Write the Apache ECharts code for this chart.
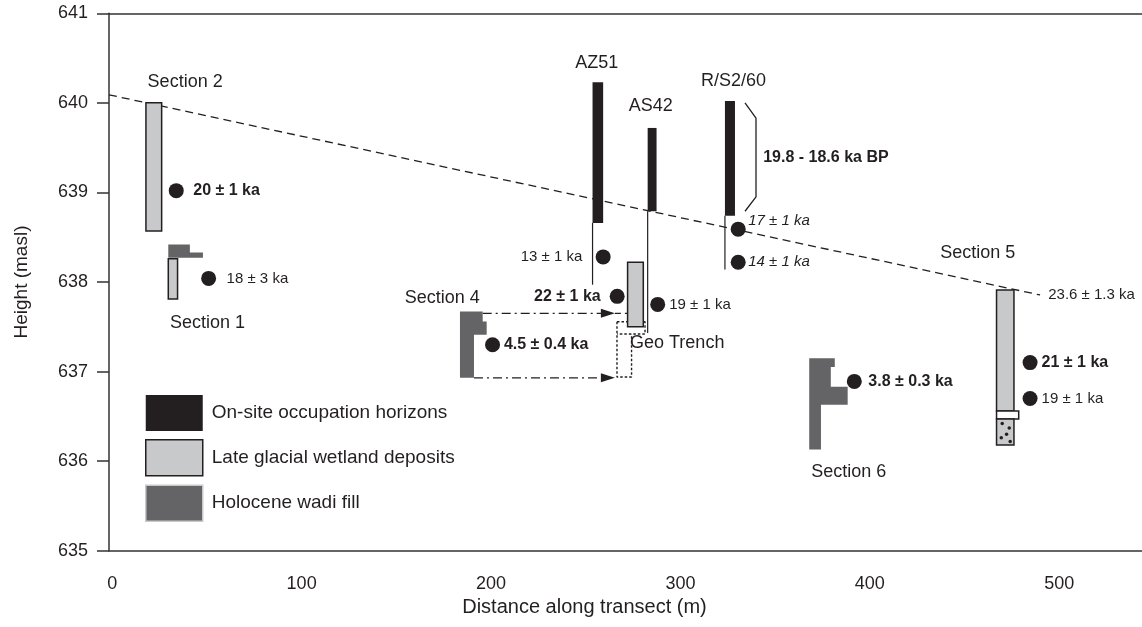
<!DOCTYPE html>
<html><head><meta charset="utf-8">
<script src="https://cdn.jsdelivr.net/npm/echarts@6/dist/echarts.min.js"></script>
<style>html,body{margin:0;padding:0;background:#fff}#c{width:1142px;height:627px}</style>
</head><body><div id="c"></div>
<script>
// ---- axes ----
const xTickValues = [0, 100, 200, 300, 400, 500];
const yTickValues = [635, 636, 637, 638, 639, 640, 641];

// ---- occupation horizons (black): [x0, x1, yTop, yBottom] ----
const occupationBars = [
  [253.6, 259.2, 640.23, 638.66],   // AZ51
  [282.7, 287.4, 639.72, 638.79],   // AS42
  [323.5, 328.8, 640.02, 638.74]    // R/S2/60
];
// ---- late glacial wetland deposits (light grey): [x0, x1, yTop, yBottom] ----
const wetlandBars = [
  [17.8, 26.1, 640.00, 638.57],     // Section 2
  [29.6, 34.5, 638.26, 637.81],     // Section 1
  [272.1, 280.4, 638.22, 637.50],   // Geo Trench
  [466.9, 476.1, 637.91, 636.56]    // Section 5
];
// Section 5 base units
const whiteBand = [[466.9, 478.6, 636.56, 636.47]];
const stippleBand = [[466.9, 476.1, 636.47, 636.18]];
const stippleDots = [[469.9, 636.42], [473.6, 636.37], [472.2, 636.30], [469.4, 636.26], [474.1, 636.22]];

// ---- Holocene wadi fill polygons (vertices) ----
const wadiSection1 = [[29.6, 638.42], [41.0, 638.42], [41.0, 638.33], [47.9, 638.33], [47.9, 638.27], [29.6, 638.27]];
const wadiSection4 = [[183.6, 637.67], [195.6, 637.67], [195.6, 637.56], [197.7, 637.56], [197.7, 637.41], [191.0, 637.41], [191.0, 636.93], [183.6, 636.93]];
const wadiSection6 = [[368.0, 637.15], [381.5, 637.15], [381.5, 637.05], [379.4, 637.05], [379.4, 636.83], [388.3, 636.83], [388.3, 636.63], [374.2, 636.63], [374.2, 636.13], [368.0, 636.13]];
const wadiPolygons = [wadiSection1, wadiSection4, wadiSection6];

// ---- dated samples (dots) ----
const samples = [
  [33.8, 639.02], [50.9, 638.04], [200.8, 637.30], [259.2, 638.28], [266.6, 637.84],
  [288.0, 637.75], [330.5, 638.59], [330.5, 638.22], [391.8, 636.89], [484.6, 637.10], [484.6, 636.70]
];

// ---- lines ----
const surfaceLine = [[-1.7, 640.09], [489.9, 637.855]];
const coreLines = [[253.6, 638.66, 637.97], [282.7, 638.79, 637.43], [323.5, 638.74, 638.14]]; // x, yTop, yBottom
const bracket = [[334.1, 640.00], [339.9, 639.83], [339.9, 638.95], [334.1, 638.79]];
const arrows = [[195.6, 265.4, 637.65], [191.0, 265.4, 636.93]]; // x0, x1, y
const arrowTail = [[265.4, 637.65], [272.1, 637.65]];
const trenchOutlineA = [[266.5, 637.557], [281.3, 637.557], [281.3, 637.42], [266.5, 637.42]];
const trenchOutlineB = [[266.5, 637.557], [266.5, 636.94], [274.2, 636.94], [274.2, 637.42]];

// ---- text labels: [x, y, text] ----
const boldLeftLabels = [
  [42.8, 639.02, '20 ± 1 ka'], [206.8, 637.30, '4.5 ± 0.4 ka'], [399.2, 636.89, '3.8 ± 0.3 ka'],
  [490.7, 637.10, '21 ± 1 ka'], [343.7, 639.39, '19.8 - 18.6 ka BP']
];
const boldRightLabels = [[257.9, 637.84, '22 ± 1 ka']];
const normalLeftLabels = [
  [60.4, 638.04, '18 ± 3 ka'], [294.1, 637.75, '19 ± 1 ka'], [490.7, 636.70, '19 ± 1 ka'], [494.2, 637.855, '23.6 ± 1.3 ka']
];
const normalRightLabels = [[248.2, 638.28, '13 ± 1 ka']];
const italicLeftLabels = [[335.8, 638.68, '17 ± 1 ka'], [335.8, 638.22, '14 ± 1 ka']];
const siteLabels = [
  [38.5, 640.23, 'Section 2'], [50.3, 637.54, 'Section 1'], [174.3, 637.82, 'Section 4'],
  [298.3, 637.32, 'Geo Trench'], [255.8, 640.44, 'AZ51'], [284.3, 639.97, 'AS42'],
  [328.0, 640.24, 'R/S2/60'], [457.0, 638.32, 'Section 5'], [388.9, 635.88, 'Section 6']
];

const legendNames = ['On-site occupation horizons', 'Late glacial wetland deposits', 'Holocene wadi fill'];

// ---- styles ----
const INK = '#231f20';
const LIGHT = '#c8c9cb';
const DARK = '#646466';
const FF = '"Liberation Sans", Arial, Helvetica, sans-serif';

function rectSeries(name, arr, fill, stroke, lw, z) {
  return {
    type: 'custom', name: name, clip: false, z: z, silent: true,
    itemStyle: { color: fill, borderColor: stroke || fill, borderWidth: lw },
    encode: { x: [0, 1], y: [2, 3] },
    data: arr,
    renderItem: function (params, api) {
      const p0 = api.coord([api.value(0), api.value(2)]);
      const p1 = api.coord([api.value(1), api.value(3)]);
      return {
        type: 'rect',
        shape: { x: p0[0], y: p0[1], width: p1[0] - p0[0], height: p1[1] - p0[1] },
        style: { fill: fill, stroke: stroke || null, lineWidth: lw }
      };
    }
  };
}

function textSeries(arr, font, align, color) {
  return {
    type: 'custom', clip: false, z: 20, silent: true,
    data: arr.map(d => [d[0], d[1]]),
    renderItem: function (params, api) {
      const p = api.coord([api.value(0), api.value(1)]);
      return {
        type: 'text', x: p[0], y: p[1],
        style: { text: arr[params.dataIndex][2], font: font, fill: color || INK, align: align, verticalAlign: 'middle' }
      };
    }
  };
}

function lineSeries(data, type, width, z) {
  return {
    type: 'line', data: data, symbol: 'none', silent: true, z: z || 5,
    lineStyle: { color: INK, width: width, type: type }, animation: false
  };
}

const chart = echarts.init(document.getElementById('c'), null, { renderer: 'canvas' });

const option = {
  animation: false,
  backgroundColor: '#ffffff',
  textStyle: { fontFamily: FF, color: INK },
  grid: { left: 109, right: 0, top: 13.3, bottom: 76.3, containLabel: false },
  legend: {
    left: 145, top: 395, orient: 'vertical', itemWidth: 57, itemHeight: 36, itemGap: 8,
    padding: 0, selectedMode: false, icon: 'rect',
    textStyle: { fontSize: 19, color: INK, fontFamily: FF, padding: [0, 0, 0, 4] },
    data: [
      { name: legendNames[0], itemStyle: { color: INK, borderWidth: 0 } },
      { name: legendNames[1], itemStyle: { color: LIGHT, borderColor: INK, borderWidth: 1.5 } },
      { name: legendNames[2], itemStyle: { color: DARK, borderColor: LIGHT, borderWidth: 1.5 } }
    ]
  },
  xAxis: [{
    type: 'value', min: -1.7, max: 543.7, position: 'bottom',
    name: 'Distance along transect (m)', nameLocation: 'middle', nameGap: 45,
    nameTextStyle: { fontSize: 20, color: INK, fontFamily: FF, padding: [0, 82, 0, 0] },
    axisLine: { show: true, onZero: false, lineStyle: { color: '#333', width: 1.5 } },
    axisTick: { show: false },
    splitLine: { show: false },
    axisLabel: { customValues: xTickValues, fontSize: 18, color: INK, margin: 24, fontFamily: FF }
  }, {
    type: 'value', min: -1.7, max: 543.7, position: 'top',
    axisLine: { show: true, onZero: false, lineStyle: { color: '#333', width: 1.5 } },
    axisTick: { show: false }, axisLabel: { show: false }, splitLine: { show: false }
  }],
  yAxis: {
    type: 'value', min: 635, max: 641, interval: 1,
    name: 'Height (masl)', nameLocation: 'middle', nameGap: 78,
    nameTextStyle: { fontSize: 19, color: INK, fontFamily: FF },
    axisLine: { show: true, onZero: false, lineStyle: { color: '#333', width: 1.5 } },
    axisTick: { show: true, length: 12, inside: false, lineStyle: { color: '#333', width: 1.5 } },
    splitLine: { show: false },
    axisLabel: { fontSize: 18, color: INK, margin: 21, fontFamily: FF,
      customValues: yTickValues }
  },
  series: [
    // surface (dashed)
    lineSeries(surfaceLine, [8, 5], 1.3, 3),
    // wetland deposits
    rectSeries(legendNames[1], wetlandBars, LIGHT, INK, 1.5, 6),
    rectSeries(null, whiteBand, '#ffffff', INK, 1.5, 6),
    rectSeries(null, stippleBand, LIGHT, INK, 1.5, 6),
    {
      type: 'scatter', data: stippleDots, symbolSize: 3.5, z: 7, silent: true,
      itemStyle: { color: INK, opacity: 1 }
    },
    // occupation horizons
    rectSeries(legendNames[0], occupationBars, INK, null, 0, 6),
    // wadi fill polygons
    {
      type: 'custom', name: legendNames[2], clip: false, z: 6, silent: true,
      itemStyle: { color: DARK },
      data: wadiPolygons.map(p => [p[0][0], p[0][1]]),
      renderItem: function (params, api) {
        const pts = wadiPolygons[params.dataIndex].map(v => api.coord(v));
        return { type: 'polygon', shape: { points: pts }, style: { fill: DARK } };
      }
    },
    // core extension lines
    {
      type: 'custom', clip: false, z: 5, silent: true,
      data: coreLines,
      renderItem: function (params, api) {
        const a = api.coord([api.value(0), api.value(1)]);
        const b = api.coord([api.value(0), api.value(2)]);
        return { type: 'line', shape: { x1: a[0], y1: a[1], x2: b[0], y2: b[1] }, style: { stroke: INK, lineWidth: 1.2 } };
      }
    },
    // bracket
    lineSeries(bracket, 'solid', 1.3, 5),
    // trench outline (dotted)
    lineSeries(trenchOutlineA, [2.5, 2], 1.4, 4),
    lineSeries(trenchOutlineB, [2.5, 2], 1.4, 4),
    lineSeries(arrowTail, [6, 4], 1.3, 4),
    // arrows (dash-dot with heads)
    {
      type: 'custom', clip: false, z: 5, silent: true,
      data: arrows,
      renderItem: function (params, api) {
        const a = api.coord([api.value(0), api.value(2)]);
        const b = api.coord([api.value(1), api.value(2)]);
        return {
          type: 'group', children: [
            { type: 'line', shape: { x1: a[0], y1: a[1], x2: b[0] - 12, y2: b[1] },
              style: { stroke: INK, lineWidth: 1.3, lineDash: [9, 4, 2, 4] } },
            { type: 'polygon', shape: { points: [[b[0], b[1]], [b[0] - 14, b[1] - 4.5], [b[0] - 14, b[1] + 4.5]] },
              style: { fill: INK } }
          ]
        };
      }
    },
    // samples
    {
      type: 'scatter', data: samples, symbolSize: 15, z: 8, silent: true,
      itemStyle: { color: INK, opacity: 1 }
    },
    textSeries(boldLeftLabels, 'bold 16px ' + FF, 'left'),
    textSeries(boldRightLabels, 'bold 16px ' + FF, 'right'),
    textSeries(normalLeftLabels, '15px ' + FF, 'left'),
    textSeries(normalRightLabels, '15px ' + FF, 'right'),
    textSeries(italicLeftLabels, 'italic 15px ' + FF, 'left'),
    textSeries(siteLabels, '18px ' + FF, 'center')
  ]
};
chart.setOption(option);
</script>
</body></html>
